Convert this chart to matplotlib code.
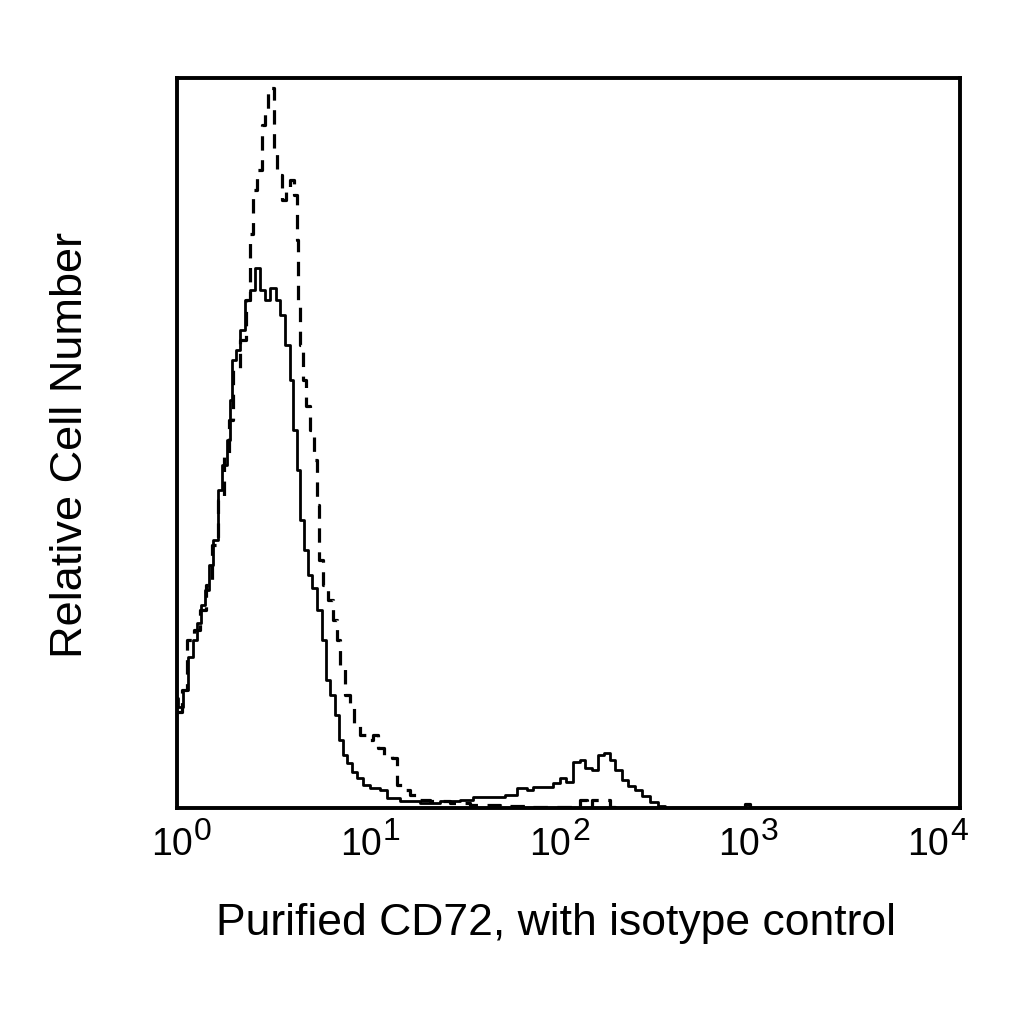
import numpy as np
import matplotlib
matplotlib.use("Agg")
import matplotlib.pyplot as plt
import matplotlib.transforms as mtrans

plt.rcParams['font.family'] = ['Liberation Sans', 'DejaVu Sans']

# CD72 stained cells (solid): fluorescence channel, relative count (%)
cd72_x = [1.00, 1.01, 1.07, 1.14, 1.21, 1.27, 1.33, 1.39, 1.46, 1.53, 1.62, 1.70,
          1.80, 1.87, 1.91, 2.00, 2.10, 2.23, 2.36, 2.50, 2.65, 2.82, 2.99, 3.20,
          3.36, 3.56, 3.78, 3.91, 4.10, 4.25, 4.46, 4.67, 4.89, 5.19, 5.51, 5.77,
          6.05, 6.42, 6.72, 7.05, 7.39, 7.84, 8.31, 8.92, 9.68, 10.9, 11.8, 13.8,
          17.4, 22.1, 27.9, 32.5, 39.7, 47.4, 54.6, 61.4, 65.9, 75.9, 83.3, 90.5,
          97.1, 105, 115, 121, 132, 142, 152, 163, 173, 188, 201, 219, 238, 261,
          287, 311]
cd72_y = [15.0, 13.8, 16.2, 20.7, 23.0, 25.3, 27.8, 29.9, 33.3, 36.7, 43.6, 47.0,
          50.4, 55.9, 61.4, 62.7, 65.5, 69.6, 71.0, 74.0, 71.0, 69.6, 71.2, 69.6,
          67.5, 63.4, 58.6, 51.8, 46.3, 39.5, 35.3, 31.9, 30.1, 27.1, 23.0, 17.5,
          15.5, 12.7, 9.3, 7.3, 6.2, 4.9, 4.1, 3.2, 2.7, 2.5, 1.4, 1.0,
          0.7, 1.0, 1.1, 1.5, 1.5, 1.8, 2.7, 2.5, 2.9, 2.9, 3.4, 4.1,
          3.6, 6.3, 6.6, 5.5, 5.2, 7.3, 7.5, 6.6, 5.2, 3.8, 3.0, 2.5, 1.6, 0.8,
          0.3, 0.0]

# isotype control (dashed)
iso_x = [1.00, 1.06, 1.12, 1.22, 1.31, 1.41, 1.51, 1.62, 1.74, 1.84, 1.93, 2.10,
         2.25, 2.36, 2.44, 2.56, 2.72, 2.82, 2.92, 3.02, 3.13, 3.24, 3.44, 3.61,
         3.78, 3.96, 4.10, 4.15, 4.25, 4.40, 4.56, 4.78, 5.01, 5.19, 5.31, 5.57,
         5.91, 6.27, 6.57, 6.80, 7.22, 7.65, 8.02, 8.61, 9.35, 10.0, 10.6, 11.4,
         12.5, 13.3, 14.3, 15.5, 17.0, 19.6, 24.8, 31.4, 44.7, 63.6, 115, 124,
         132, 163, 173, 261, 798, 846]
iso_y = [13.2, 16.2, 23.0, 24.4, 27.1, 30.5, 36.0, 42.2, 48.4, 53.2, 60.0, 64.1,
         69.6, 78.6, 84.7, 87.4, 93.6, 95.6, 98.1, 98.6, 90.1, 86.7, 83.3, 84.7,
         86.0, 84.0, 77.8, 69.6, 63.4, 58.6, 55.1, 51.8, 47.7, 41.5, 34.0, 30.5,
         28.5, 25.8, 23.0, 19.6, 15.5, 14.1, 11.4, 10.0, 9.3, 10.0, 8.2, 7.3,
         6.8, 3.2, 2.5, 1.8, 1.1, 1.0, 0.7, 0.4, 0.3, 0.1, 1.1, 0.1,
         1.1, 0.1, 0.0, 0.0, 0.5, 0.0]

decades = [0, 1, 2, 3, 4]

fig = plt.figure(figsize=(10.24, 10.24), dpi=100)
ax = fig.add_axes([0.173, 0.211, 0.7645, 0.713])

ax.step(iso_x, iso_y, where='post', color='black', lw=2.3,
        linestyle=(0, (4.5, 3)))
ax.step(cd72_x, cd72_y, where='post', color='black', lw=2.0)

ax.set_xscale('log')
ax.set_xlim(1, 10000)
ax.set_ylim(0, 100)
ax.set_xticks([])
ax.set_xticks([], minor=True)
ax.set_yticks([])

for s in ax.spines.values():
    s.set_linewidth(2.8)

# decade labels "10" + superscript, spaced a little tighter than the axis
for d in decades:
    xf = 0.0204 + 0.9656 * d / 4
    base = ax.transAxes + mtrans.ScaledTranslation(0, -47 / 100, fig.dpi_scale_trans)
    sup = ax.transAxes + mtrans.ScaledTranslation(1 / 100, -32 / 100, fig.dpi_scale_trans)
    ax.text(xf, 0, '10', transform=base, ha='right', va='baseline', fontsize=27)
    ax.text(xf, 0, str(d), transform=sup, ha='left', va='baseline', fontsize=23)

fig.text(556 / 1024, 1 - 935 / 1024, 'Purified CD72, with isotype control',
         ha='center', va='baseline', fontsize=32)
fig.text(71 / 1024, 1 - 445 / 1024, 'Relative Cell Number',
         ha='center', va='center', rotation=90, fontsize=32.5)

fig.savefig('out.png', dpi=100)
